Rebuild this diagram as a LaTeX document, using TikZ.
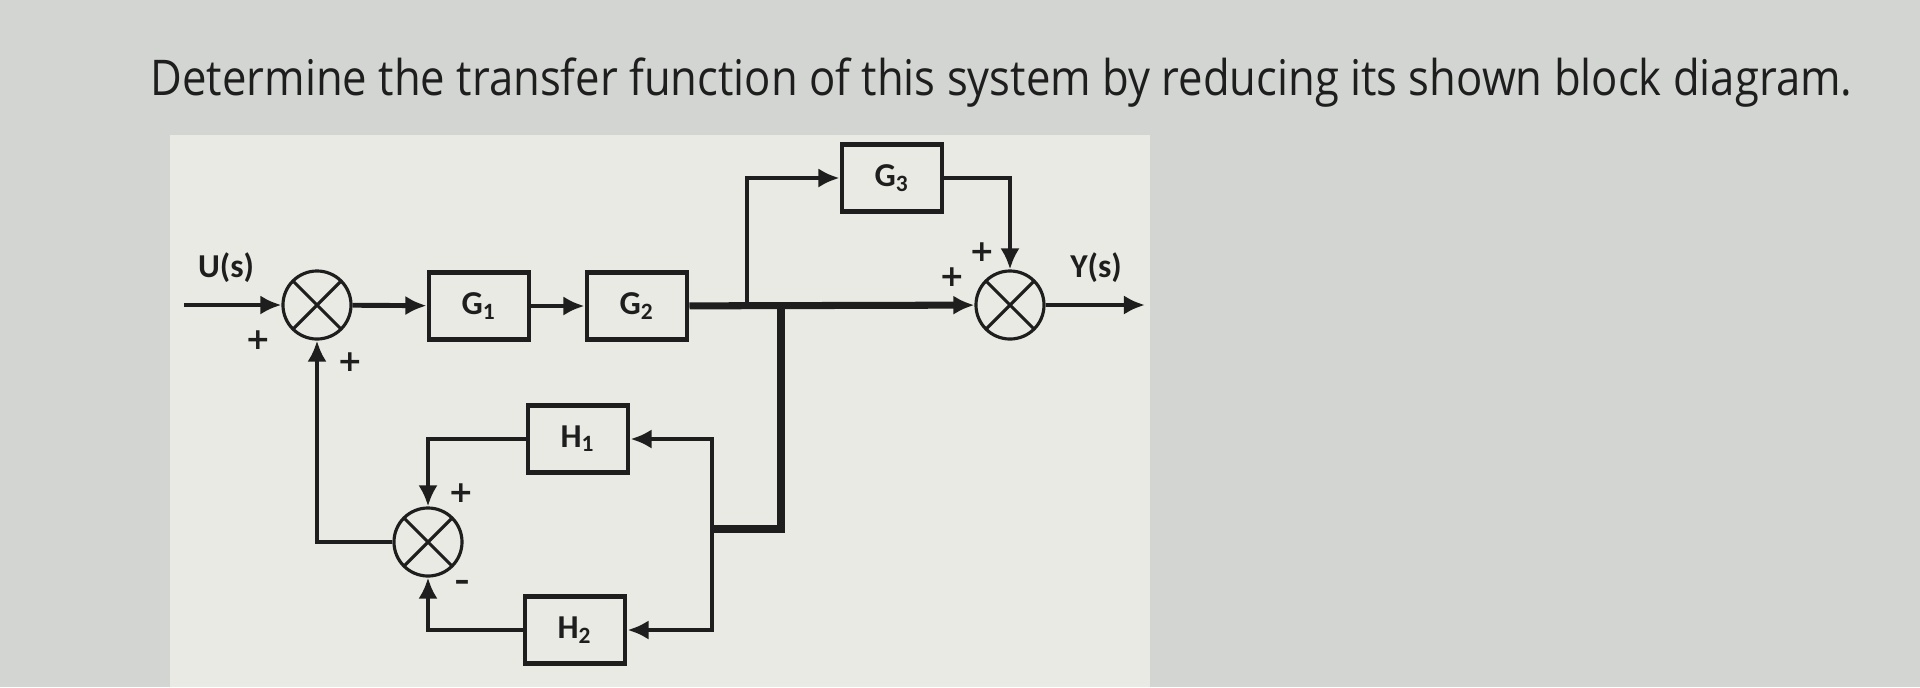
\documentclass[tikz,border=0pt]{standalone}
\usepackage{fontspec}
\setmainfont{Open Sans}
\newfontfamily\blocfont{Carlito}
\newfontfamily\signefont{DejaVu Sans}
\usetikzlibrary{arrows.meta}

\definecolor{fondgris}{RGB}{210,213,210}
\definecolor{fondclair}{RGB}{234,234,228}
\definecolor{encre}{RGB}{30,30,30}

\tikzset{
  bloc/.style={draw=encre, line width=1.4pt, minimum width=1cm, minimum height=0.67cm,
    inner sep=0pt, text=encre, font=\blocfont\bfseries\fontsize{9.5}{10}\selectfont},
  somme/.style={circle, draw=encre, line width=0.9pt, minimum size=0.68cm, inner sep=0pt,
    path picture={\draw[encre,line width=0.9pt]
      (path picture bounding box.north west)--(path picture bounding box.south east)
      (path picture bounding box.north east)--(path picture bounding box.south west);}},
  lien/.style={draw=encre, line width=1.4pt},
  signe/.style={inner sep=0pt, text=encre, font=\signefont\bfseries\fontsize{8.5}{8.5}\selectfont},
  etiq/.style={inner sep=0pt, text=encre, font=\blocfont\bfseries\fontsize{9.5}{10}\selectfont},
}

\begin{document}
\begin{tikzpicture}[x=0.01cm, y=-0.01cm, >={Latex[length=6pt,width=5.5pt]}]
  \useasboundingbox (0,0) rectangle (1920,687);

  % Fond
  \fill[fondgris] (0,0) rectangle (1920,687);
  \fill[fondclair] (170,135) rectangle (1150,687);

  % Enonce
  \node[anchor=base west, inner sep=0pt, text=encre, xscale=0.886,
    font=\fontsize{14}{16}\selectfont] (titre) at (150,95)
    {Determine the transfer function of this system by reducing its shown block diagram.};

  % Chaine directe
  \coordinate (entree) at (184,305);
  \node[somme] (s1) at (317,305) {};
  \node[bloc] (g1) at (479,306) {G\textsubscript{1}};
  \node[bloc] (g2) at (637,306) {G\textsubscript{2}};
  \node[bloc] (g3) at (892,178) {G\textsubscript{3}};
  \node[somme] (s2) at (1010,305) {};
  \coordinate (sortie) at (1145,305);
  \coordinate (b1) at (747,305);
  \coordinate (b2) at (781,305);

  \draw[lien,->] (entree) -- (s1);
  \draw[lien,->] (s1) -- (g1);
  \draw[lien,->] (g1) -- (g2);
  \draw[lien,->,line width=2pt] (g2) -- (s2);
  \draw[lien,->] (b1) |- (g3);
  \draw[lien,->] (g3) -| (s2);
  \draw[lien,->] (s2) -- (sortie);

  \node[etiq] (u) at (226,268) {U(s)};
  \node[etiq] (y) at (1096,268) {Y(s)};

  % Boucles de retour
  \node[bloc] (h1) at (578,439) {H\textsubscript{1}};
  \node[bloc] (h2) at (575,630) {H\textsubscript{2}};
  \node[somme] (s3) at (428,542) {};
  \coordinate (b3) at (712,529);

  \draw[lien,line width=2pt] (b2) |- (b3);
  \draw[lien,->] (b3) |- (h1);
  \draw[lien,->] (b3) |- (h2);
  \draw[lien,->] (h1) -| (s3);
  \draw[lien,->] (h2) -| (s3);
  \draw[lien,->] (s3) -| (s1);

  % Signes
  \node[signe] (p1) at (258,340) {+};
  \node[signe] (p2) at (350,362) {+};
  \node[signe] (p3) at (982,252) {+};
  \node[signe] (p4) at (952,277) {+};
  \node[signe] (p5) at (461,493) {+};
  \node[signe] (m1) at (462,585) {\textendash};

\end{tikzpicture}
\end{document}
